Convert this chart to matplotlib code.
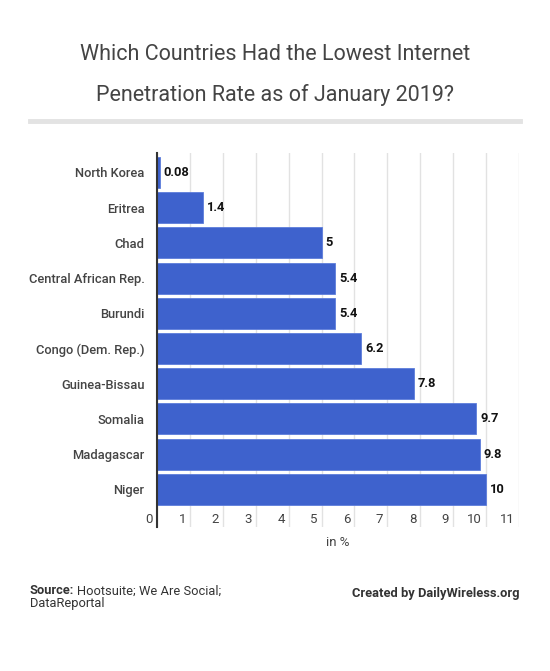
import matplotlib
matplotlib.use("Agg")
import matplotlib.pyplot as plt
from matplotlib.transforms import ScaledTranslation

countries = ["North Korea", "Eritrea", "Chad", "Central African Rep.", "Burundi",
             "Congo (Dem. Rep.)", "Guinea-Bissau", "Somalia", "Madagascar", "Niger"]
values = [0.08, 1.4, 5, 5.4, 5.4, 6.2, 7.8, 9.7, 9.8, 10]
value_labels = ["0.08", "1.4", "5", "5.4", "5.4", "6.2", "7.8", "9.7", "9.8", "10"]
xticks = list(range(0, 12))

plt.rcParams['font.family'] = ['Roboto', 'DejaVu Sans']

W, H = 550, 671
fig = plt.figure(figsize=(W / 100, H / 100), dpi=100)
fig.patch.set_facecolor('white')

left, right, top, bottom = 157, 519, 153, 527
ax = fig.add_axes([left / W, 1 - bottom / H, (right - left) / W, (bottom - top) / H])

ypos = list(range(len(countries)))
ax.barh(ypos, values, height=0.88, color='#3e62cd', edgecolor='#5d7ddb', linewidth=0.6, zorder=3)

ax.set_xlim(0, 11)
ax.set_ylim(10.07, -0.55)

ax.set_xticks(xticks)
ax.xaxis.grid(True, color='#e2e2e2', linewidth=1, zorder=0)
ax.tick_params(axis='x', length=0, labelbottom=False)
ax.set_yticks(ypos)
ax.set_yticklabels(countries, fontsize=9.3, color='#444444', fontweight='medium')
ax.tick_params(axis='y', length=0, pad=9)

for s in ['top', 'right', 'bottom']:
    ax.spines[s].set_visible(False)
ax.spines['left'].set_color('#333333')
ax.spines['left'].set_linewidth(1.5)
ax.spines['left'].set_zorder(4)

offset = ScaledTranslation(-4 / 100, 0, fig.dpi_scale_trans)
for t in xticks:
    ax.text(t, 9.87, str(t), transform=ax.transData + offset, ha='right', va='center',
            fontsize=9.5, color='#444444')

for y, v, lab in zip(ypos, values, value_labels):
    ax.annotate(lab, (v, y), xytext=(3, 0), textcoords='offset points', ha='left', va='center',
                fontsize=9.3, fontweight='bold', color='#111111', zorder=5)

fig.text((left + right) / 2 / W, 1 - 543 / H, 'in %', ha='center', va='center', fontsize=9.5, color='#444444')

fig.text(0.5, 1 - 55 / H, 'Which Countries Had the Lowest Internet', ha='center', va='center',
         fontsize=15.5, color='#444444')
fig.text(0.5, 1 - 95 / H, 'Penetration Rate as of January 2019?', ha='center', va='center',
         fontsize=15.5, color='#444444')

fig.add_artist(plt.Line2D([30 / W, 520 / W], [1 - 121 / H, 1 - 121 / H], color='#e3e3e3', linewidth=3.5))

src = fig.text(30 / W, 1 - 591 / H, 'Source:', ha='left', va='center', fontsize=9.3,
               color='#333333', fontweight='bold')
fig.canvas.draw()
bb = src.get_window_extent()
fig.text((bb.x1 + 3) / W, 1 - 591 / H, 'Hootsuite; We Are Social;', ha='left', va='center',
         fontsize=9.3, color='#333333')
fig.text(30 / W, 1 - 604 / H, 'DataReportal', ha='left', va='center', fontsize=9.3, color='#333333')
fig.text(519 / W, 1 - 594 / H, 'Created by DailyWireless.org', ha='right', va='center', fontsize=9.3,
         color='#333333', fontweight='bold')

fig.savefig('out.png', dpi=100, facecolor='white')
